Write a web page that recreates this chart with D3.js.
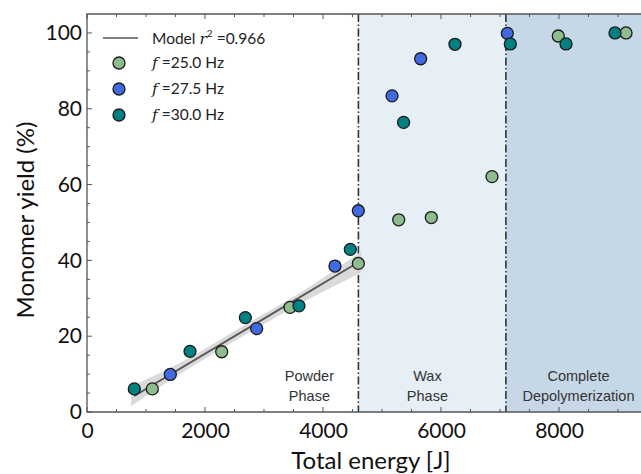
<!DOCTYPE html>
<html>
<head>
<meta charset="utf-8">
<script src="https://cdn.jsdelivr.net/npm/d3@7"></script>
<style>
  body { margin: 0; background: #fff; }
  svg { display: block; }
</style>
</head>
<body>
<div id="chart"></div>
<script>
// data
const seriesNames = ["25.0", "27.5", "30.0"];
const colors = ["#8fbc8f", "#4169e1", "#008080"];
const energy25 = [1107, 2283, 3441, 4599, 5283, 5836, 6864, 7988, 9136];
const yield25  = [6.1, 15.9, 27.6, 39.2, 50.7, 51.3, 62.1, 99.2, 100];
const energy27 = [1412, 2876, 4203, 4599, 5170, 5655, 7124];
const yield27  = [9.9, 22.0, 38.5, 53.1, 83.4, 93.2, 99.9];
const energy30 = [802, 1746, 2684, 3593, 4463, 5366, 6237, 7175, 8119, 8949];
const yield30  = [6.1, 16.0, 24.9, 28.0, 42.9, 76.4, 97.0, 97.1, 97.1, 100];

// linear model and its band
const modelX  = [800, 4600];
const modelY  = [4.2, 39.5];
const bandX   = [750, 1700, 2700, 3700, 4650];
const bandLo  = [1.6, 11.2, 20.5, 29.3, 36.8];
const bandHi  = [6.8, 14.0, 23.2, 32.3, 42.4];

// phase boundaries
const phaseEdges = [4600, 7100];
const phaseLabels = [["Powder", "Phase"], ["Wax", "Phase"], ["Complete", "Depolymerization"]];
const phaseCenters = [3770, 5770, 8330];

const xTicks = [0, 2000, 4000, 6000, 8000];
const yTicks = [0, 20, 40, 60, 80, 100];

const width = 641, height = 474;
const mLeft = 87, mTop = 14, mBottom = 412, mRight = 641;

const svg = d3.select("#chart").append("svg")
  .attr("width", width).attr("height", height);

const x = d3.scaleLinear().domain([0, 9390]).range([mLeft, mRight]);
const y = d3.scaleLinear().domain([0, 105]).range([mBottom, mTop]);

// shaded phases
svg.append("rect")
  .attr("x", x(phaseEdges[0])).attr("y", mTop)
  .attr("width", x(phaseEdges[1]) - x(phaseEdges[0])).attr("height", mBottom - mTop)
  .attr("fill", "#e5eff5");
svg.append("rect")
  .attr("x", x(phaseEdges[1])).attr("y", mTop)
  .attr("width", mRight - x(phaseEdges[1])).attr("height", mBottom - mTop)
  .attr("fill", "#c6d8e7");

// phase labels
phaseLabels.forEach((lines, i) => {
  const t = svg.append("text")
    .attr("x", x(phaseCenters[i]))
    .attr("text-anchor", "middle")
    .attr("font-family", "'Liberation Sans', Arial, sans-serif")
    .attr("font-size", 14.5)
    .attr("fill", "#333");
  lines.forEach((s, j) => {
    t.append("tspan").attr("x", x(phaseCenters[i])).attr("y", 381 + j * 20).text(s);
  });
});

// boundary lines
svg.selectAll("line.edge").data(phaseEdges).enter().append("line")
  .attr("class", "edge")
  .attr("x1", d => x(d)).attr("x2", d => x(d))
  .attr("y1", mTop).attr("y2", mBottom)
  .attr("stroke", "#333").attr("stroke-width", 1.6)
  .attr("stroke-dasharray", "8,2.5,1.5,2.5");

// confidence band + model line
const band = bandX.map((d, i) => ({ x: d, lo: bandLo[i], hi: bandHi[i] }));
svg.append("path")
  .datum(band)
  .attr("d", d3.area().x(d => x(d.x)).y0(d => y(d.lo)).y1(d => y(d.hi)).curve(d3.curveMonotoneX))
  .attr("fill", "#d6d6d6").attr("opacity", 0.9);
svg.append("path")
  .datum(modelX.map((d, i) => [d, modelY[i]]))
  .attr("d", d3.line().x(d => x(d[0])).y(d => y(d[1])))
  .attr("stroke", "#555").attr("stroke-width", 1.8).attr("fill", "none");

// axes
const tickFont = "Lato, 'Open Sans', sans-serif";
const xAxis = svg.append("g").attr("transform", `translate(0,${mBottom})`)
  .call(d3.axisBottom(x).tickValues(xTicks).tickSize(0).tickPadding(11).tickFormat(d3.format("d")));
xAxis.select(".domain").remove();
xAxis.selectAll("text").attr("font-family", tickFont).attr("font-size", 21).attr("fill", "#111");

const yAxis = svg.append("g").attr("transform", `translate(${mLeft},0)`)
  .call(d3.axisLeft(y).tickValues(yTicks).tickSize(0).tickPadding(5));
yAxis.select(".domain").remove();
yAxis.selectAll("text").attr("font-family", tickFont).attr("font-size", 21).attr("fill", "#111");

// inward ticks
const minorX = d3.range(0, 9400, 500);
const minorY = d3.range(0, 105, 5);
const tickG = svg.append("g").attr("stroke", "#555").attr("stroke-width", 1);
tickG.selectAll("line.bx").data(minorX).enter().append("line")
  .attr("x1", d => x(d)).attr("x2", d => x(d))
  .attr("y1", mBottom).attr("y2", d => mBottom - (d % 2000 === 0 ? 5 : 3));
tickG.selectAll("line.tx").data(minorX).enter().append("line")
  .attr("x1", d => x(d)).attr("x2", d => x(d))
  .attr("y1", mTop).attr("y2", d => mTop + (d % 2000 === 0 ? 5 : 3));
tickG.selectAll("line.ly").data(minorY).enter().append("line")
  .attr("x1", mLeft).attr("x2", d => mLeft + (d % 20 === 0 ? 5 : 3))
  .attr("y1", d => y(d)).attr("y2", d => y(d));

// spines
svg.append("path")
  .attr("d", `M${mRight},${mTop}H${mLeft}V${mBottom}H${mRight}`)
  .attr("fill", "none").attr("stroke", "#555").attr("stroke-width", 1.3);

// points
const series = [
  { xs: energy25, ys: yield25 },
  { xs: energy27, ys: yield27 },
  { xs: energy30, ys: yield30 }
];
series.forEach((s, k) => {
  svg.append("g").selectAll("circle")
    .data(s.xs.map((d, i) => [d, s.ys[i]]))
    .enter().append("circle")
    .attr("cx", d => x(d[0])).attr("cy", d => y(d[1]))
    .attr("r", 6)
    .attr("fill", colors[k])
    .attr("stroke", "#1a1a1a").attr("stroke-width", 1.3);
});

// axis titles
svg.append("text")
  .attr("x", 371).attr("y", 469)
  .attr("text-anchor", "middle")
  .attr("font-family", tickFont).attr("font-size", 24).attr("fill", "#111")
  .text("Total energy [J]");
svg.append("text")
  .attr("transform", "translate(34,220) rotate(-90)")
  .attr("text-anchor", "middle")
  .attr("font-family", tickFont).attr("font-size", 24).attr("fill", "#111")
  .text("Monomer yield (%)");

// legend
const legend = svg.append("g").attr("font-family", tickFont).attr("font-size", 15.5).attr("fill", "#222");
legend.append("line").attr("x1", 103).attr("x2", 138).attr("y1", 38).attr("y2", 38)
  .attr("stroke", "#555").attr("stroke-width", 1.5);
const mt = legend.append("text").attr("x", 152).attr("y", 44);
mt.append("tspan").text("Model ");
mt.append("tspan").attr("font-family", "'DejaVu Serif', serif").attr("font-style", "italic").text("r");
mt.append("tspan").attr("font-size", 10).attr("dy", -7).text("2");
mt.append("tspan").attr("dy", 7).text(" =0.966");

seriesNames.forEach((name, i) => {
  const cy = 63 + i * 26;
  legend.append("circle").attr("cx", 119).attr("cy", cy).attr("r", 6)
    .attr("fill", colors[i]).attr("stroke", "#1a1a1a").attr("stroke-width", 1.3);
  const t = legend.append("text").attr("x", 152).attr("y", cy + 5);
  t.append("tspan").attr("font-family", "'DejaVu Serif', serif").attr("font-style", "italic").text("f");
  t.append("tspan").text(" =" + name + " Hz");
});
</script>
</body>
</html>
